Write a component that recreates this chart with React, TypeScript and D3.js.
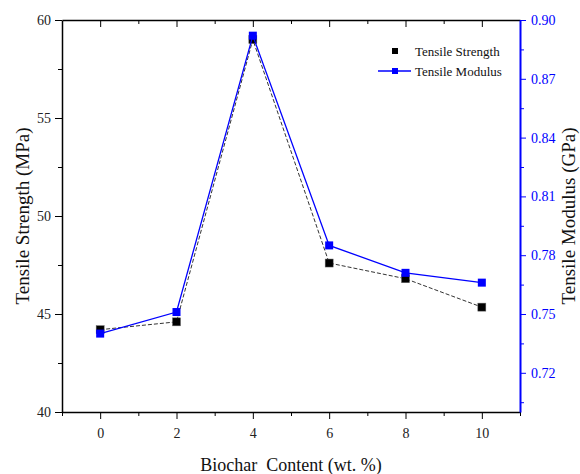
import { useEffect, useRef } from "react";
import * as d3 from "d3";

// data
const contents = [0, 2, 4, 6, 8, 10];
const tensileStrength = [44.2, 44.6, 59.0, 47.6, 46.8, 45.35];
const tensileModulus = [0.74, 0.751, 0.892, 0.785, 0.771, 0.766];

const xMajor = [0, 2, 4, 6, 8, 10];
const xMinor = [-1, 1, 3, 5, 7, 9, 11];
const leftMajor = [40, 45, 50, 55, 60];
const leftMinor = [42.5, 47.5, 52.5, 57.5];
const rightMajor = [0.72, 0.75, 0.78, 0.81, 0.84, 0.87, 0.9];
const rightMinor = [0.705, 0.735, 0.765, 0.795, 0.825, 0.855, 0.885];

const seriesNames = ["Tensile Strength", "Tensile Modulus"];

const W = 580;
const H = 474;
const margin = { top: 20, right: 60, bottom: 62, left: 62 };
const FONT = "Liberation Serif, Times New Roman, serif";
const BLUE = "#0000ff";

const App = () => {
  const svgRef = useRef<SVGSVGElement | null>(null);

  useEffect(() => {
    const svg = d3.select(svgRef.current);
    svg.selectAll("*").remove();
    svg.attr("font-family", FONT);

    const x = d3.scaleLinear().domain([-1, 11]).range([margin.left, W - margin.right]);
    const yL = d3.scaleLinear().domain([40, 60]).range([H - margin.bottom, margin.top]);
    const yR = d3.scaleLinear().domain([0.7, 0.9]).range([H - margin.bottom, margin.top]);

    const bottom = H - margin.bottom;
    const right = W - margin.right;

    const styleAxis = (g: any, color: string, width: number) => {
      g.attr("font-family", FONT).attr("font-size", 14);
      g.select(".domain").attr("stroke", color).attr("stroke-width", width);
      g.selectAll(".tick line").attr("stroke", color).attr("stroke-width", 1);
      g.selectAll(".tick text")
        .attr("fill", color === BLUE ? BLUE : "#222")
        .attr("font-family", FONT)
        .attr("font-size", 14);
    };

    // bottom axis
    const gb = svg.append("g").attr("transform", `translate(0,${bottom})`);
    gb.call(d3.axisBottom(x).tickValues(xMajor).tickSize(7).tickSizeOuter(0).tickPadding(9).tickFormat(d3.format("d")));
    styleAxis(gb, "#000", 1.3);
    const gbm = svg.append("g").attr("transform", `translate(0,${bottom})`);
    gbm.call(d3.axisBottom(x).tickValues(xMinor).tickSize(4).tickFormat(() => ""));
    gbm.select(".domain").remove();
    gbm.selectAll(".tick line").attr("stroke", "#000");

    // top axis (ticks inward)
    const gt = svg.append("g").attr("transform", `translate(0,${margin.top})`);
    gt.call(d3.axisTop(x).tickValues(xMajor).tickSize(-7).tickSizeOuter(0).tickFormat(() => ""));
    styleAxis(gt, "#000", 1.3);
    const gtm = svg.append("g").attr("transform", `translate(0,${margin.top})`);
    gtm.call(d3.axisTop(x).tickValues(xMinor.slice(1, -1)).tickSize(-4).tickFormat(() => ""));
    gtm.select(".domain").remove();
    gtm.selectAll(".tick line").attr("stroke", "#000");

    // left axis
    const gl = svg.append("g").attr("transform", `translate(${margin.left},0)`);
    gl.call(d3.axisLeft(yL).tickValues(leftMajor).tickSize(7).tickSizeOuter(0).tickPadding(4).tickFormat(d3.format("d")));
    styleAxis(gl, "#000", 1.5);
    const glm = svg.append("g").attr("transform", `translate(${margin.left},0)`);
    glm.call(d3.axisLeft(yL).tickValues(leftMinor).tickSize(4).tickFormat(() => ""));
    glm.select(".domain").remove();
    glm.selectAll(".tick line").attr("stroke", "#000");

    // right axis (blue)
    const gr = svg.append("g").attr("transform", `translate(${right},0)`);
    gr.call(d3.axisRight(yR).tickValues(rightMajor).tickSize(6).tickSizeOuter(0).tickPadding(5).tickFormat(d3.format(".2f")));
    styleAxis(gr, BLUE, 2);
    const grm = svg.append("g").attr("transform", `translate(${right},0)`);
    grm.call(d3.axisRight(yR).tickValues(rightMinor).tickSize(4).tickFormat(() => ""));
    grm.select(".domain").remove();
    grm.selectAll(".tick line").attr("stroke", BLUE);

    // axis titles
    svg
      .append("text")
      .attr("transform", `translate(29,${(margin.top + bottom) / 2}) rotate(-90)`)
      .attr("text-anchor", "middle")
      .attr("font-size", 19)
      .attr("fill", "#111")
      .text("Tensile Strength (MPa)");

    svg
      .append("text")
      .attr("transform", `translate(575,${(margin.top + bottom) / 2}) rotate(-90)`)
      .attr("text-anchor", "middle")
      .attr("font-size", 19)
      .attr("fill", "#111")
      .text("Tensile Modulus (GPa)");

    svg
      .append("text")
      .attr("x", 291)
      .attr("y", 471)
      .attr("text-anchor", "middle")
      .attr("font-size", 18)
      .style("white-space", "pre")
      .attr("fill", "#111")
      .text("Biochar  Content (wt. %)");

    const ts = contents.map((c, i) => ({ c, v: tensileStrength[i] }));
    const tm = contents.map((c, i) => ({ c, v: tensileModulus[i] }));

    // tensile strength: dashed line + black squares
    const lineL = d3
      .line<{ c: number; v: number }>()
      .x((d) => x(d.c))
      .y((d) => yL(d.v));
    svg
      .append("path")
      .datum(ts)
      .attr("d", lineL)
      .attr("fill", "none")
      .attr("stroke", "#333")
      .attr("stroke-width", 1)
      .attr("stroke-dasharray", "4,2");

    svg
      .selectAll(".ts-dot")
      .data(ts)
      .enter()
      .append("rect")
      .attr("x", (d) => x(d.c) - 4)
      .attr("y", (d) => yL(d.v) - 4)
      .attr("width", 8)
      .attr("height", 8)
      .attr("fill", "#000")
      .attr("stroke", "#666")
      .attr("stroke-width", 0.5);

    // tensile modulus: blue line + blue squares
    const lineR = d3
      .line<{ c: number; v: number }>()
      .x((d) => x(d.c))
      .y((d) => yR(d.v));
    svg
      .append("path")
      .datum(tm)
      .attr("d", lineR)
      .attr("fill", "none")
      .attr("stroke", BLUE)
      .attr("stroke-width", 1.3);

    svg
      .selectAll(".tm-dot")
      .data(tm)
      .enter()
      .append("rect")
      .attr("x", (d) => x(d.c) - 4)
      .attr("y", (d) => yR(d.v) - 4)
      .attr("width", 8)
      .attr("height", 8)
      .attr("fill", BLUE);

    // legend
    const lg = svg.append("g").attr("transform", "translate(395,0)");
    lg.append("rect").attr("x", -3).attr("y", 48).attr("width", 6).attr("height", 6).attr("fill", "#000");
    lg.append("line").attr("x1", -17).attr("x2", 16).attr("y1", 71).attr("y2", 71).attr("stroke", BLUE).attr("stroke-width", 1.3);
    lg.append("rect").attr("x", -3).attr("y", 68).attr("width", 6).attr("height", 6).attr("fill", BLUE);
    seriesNames.forEach((name, i) => {
      lg.append("text")
        .attr("x", 20)
        .attr("y", 56 + i * 20)
        .attr("font-size", 13)
        .attr("fill", "#111")
        .text(name);
    });
  }, []);

  return (
    <div style={{ position: "absolute", left: 0, top: 0, width: W, height: H, background: "#fff" }}>
      <svg ref={svgRef} width={W} height={H}></svg>
    </div>
  );
};

export default App;
